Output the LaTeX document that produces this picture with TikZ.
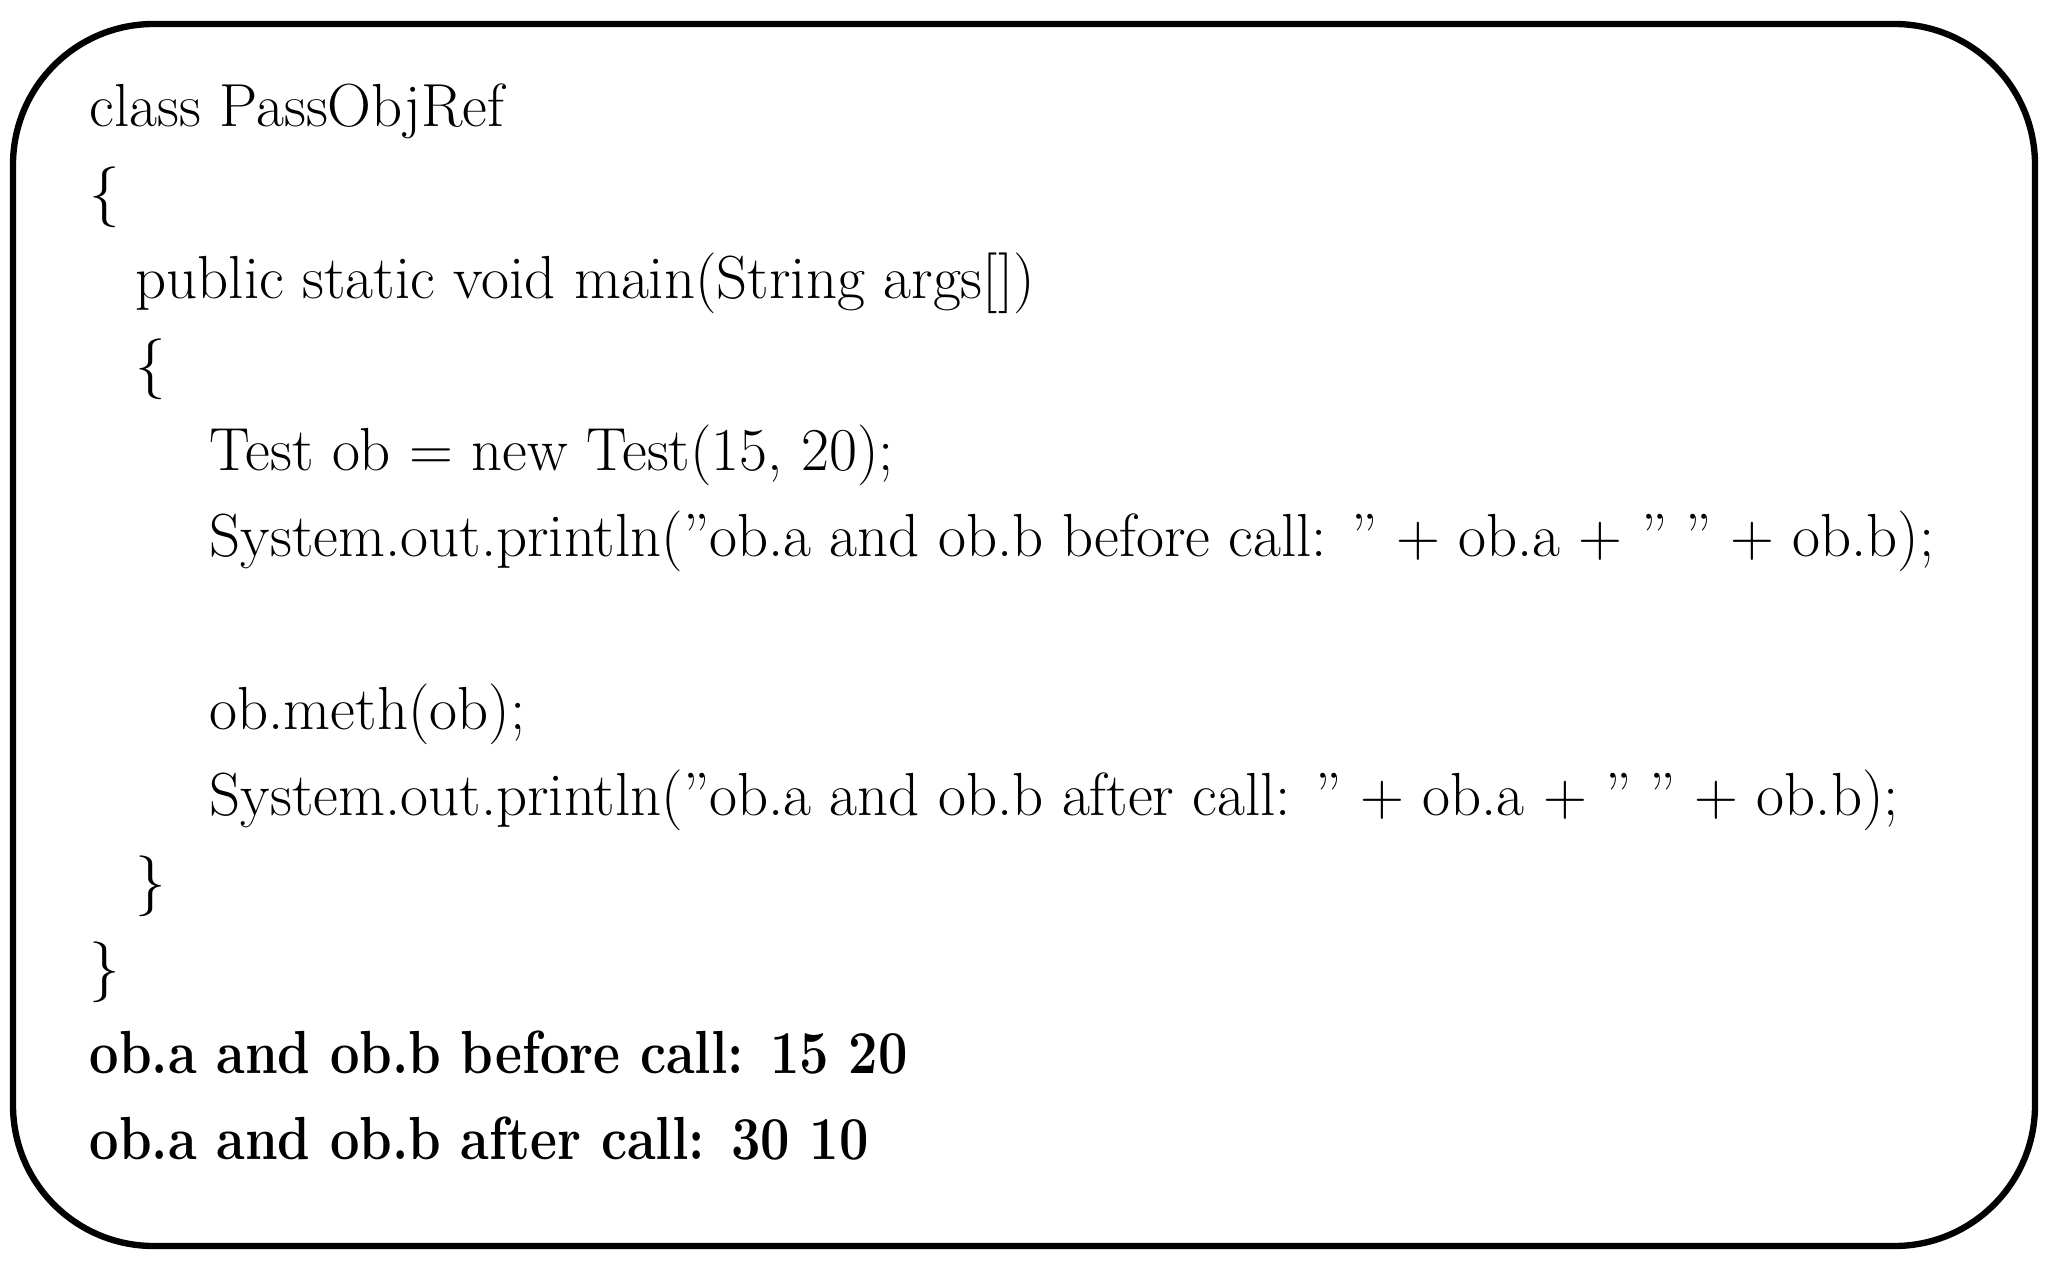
\documentclass[tikz,border=0pt]{standalone}
\usepackage{fontspec}
\usepackage{graphicx}
\newcommand{\qq}{\char"22\relax}
\begin{document}
\begin{tikzpicture}[x=0.01cm,y=-0.01cm,
  code/.style={anchor=base west,inner sep=0,font=\fontsize{17.3}{20}\selectfont},
  outtext/.style={code,font=\fontsize{17.3}{20}\selectfont\bfseries}]
\useasboundingbox (0,0) rectangle (2048,1270);
\draw[line width=1.8pt,rounded corners=40] (13,24) rectangle (2035,1246);
\node[code] (l1) at (89,127) {class PassObjRef};
\node[code] (l2) at (89,213) {\{};
\node[code] (l3) at (135,299) {public static void main(String args[])};
\node[code] (l4) at (135,385) {\{};
\node[code] (l5) at (209,471) {Test ob = new Test(15, 20);};
\node[code] (l6) at (209,557) {System.out.println(\qq ob.a and ob.b before call: \qq{} + ob.a + \qq{} \qq{} + ob.b);};
\node[code] (l7) at (209,729) {ob.meth(ob);};
\node[code] (l8) at (209,815) {System.out.println(\qq ob.a and ob.b after call: \qq{} + ob.a + \qq{} \qq{} + ob.b);};
\node[code] (l9) at (135,901) {\}};
\node[code] (l10) at (89,987) {\}};
\node[outtext] (o1) at (89,1073) {\scalebox{0.86}[1]{ob.a and ob.b before call: 15 20}};
\node[outtext] (o2) at (89,1159) {\scalebox{0.86}[1]{ob.a and ob.b after call: 30 10}};
\end{tikzpicture}
\end{document}
